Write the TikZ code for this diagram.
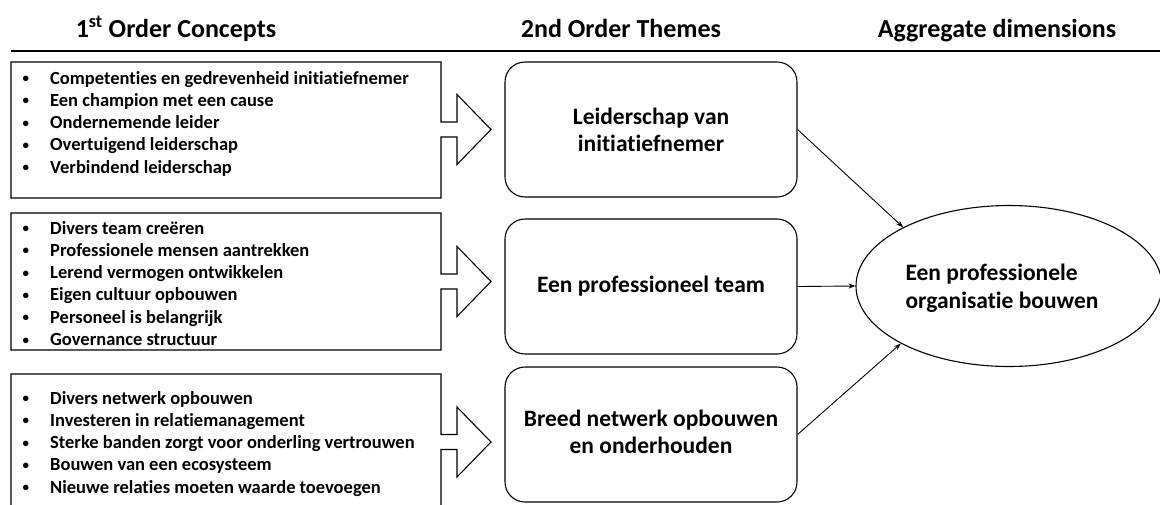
\documentclass[tikz,border=0pt]{standalone}
\usepackage{fontspec}
\setmainfont{Carlito}[RawFeature={-liga}]
\usetikzlibrary{shapes.geometric,arrows.meta}

\tikzset{
  heading/.style={font=\fontsize{26}{30}\selectfont\bfseries, inner sep=0pt, anchor=base},
  conceptbox/.style={draw=black, line width=1.1pt, fill=white, line join=miter},
  conceptlist/.style={font=\fontsize{18.5}{22.3}\selectfont\bfseries, inner sep=0pt, anchor=base west},
  theme/.style={draw=black, line width=1.1pt, rounded corners=20pt, minimum width=292pt,
    minimum height=135pt, align=center, font=\fontsize{23.5}{27}\selectfont\bfseries, inner sep=0pt},
  aggregate/.style={draw=black, line width=1.1pt, ellipse, minimum width=306pt, minimum height=161pt,
    inner sep=0pt},
  aggtext/.style={inner sep=0pt, align=left, font=\fontsize{23.5}{28}\selectfont\bfseries},
  link/.style={draw=black, line width=0.9pt, -{Stealth[length=7pt,width=5pt]}}
}

% rectangle with a block arrow on its right side: top, bottom, arrow axis
\newcommand\calloutshape[3]{%
  \draw[conceptbox] (11,#1) -- (441,#1) -- (441,#3-7.5) -- (457,#3-7.5) -- (457,#3-35)
    -- (491,#3) -- (457,#3+35) -- (457,#3+7.5) -- (441,#3+7.5) -- (441,#2) -- (11,#2) -- cycle;}
\newcommand\itm[1]{\hspace{1.5pt}{\fontsize{13}{13}\selectfont\raisebox{1.5pt}{\textbullet}} & #1\\}

\begin{document}
\begin{tikzpicture}[x=1pt,y=-1pt]
\useasboundingbox (0,0) rectangle (1160,504);

% column headings and rule
\node[heading] (h1) at (176,37) {1\textsuperscript{st} Order Concepts};
\node[heading] (h2) at (621,37) {2nd Order Themes};
\node[heading] (h3) at (997,37) {Aggregate dimensions};
\draw[line width=1.6pt] (11,51) -- (1160,51);

% first-order concept boxes
\calloutshape{62}{198}{129.5}
\calloutshape{213}{350}{281.5}
\calloutshape{374}{520}{442}

\node[conceptlist] (c1) at (21,84) {\begin{tabular}[t]{@{}p{29pt}@{}l@{}}
\itm{Competenties en gedrevenheid initiatiefnemer}
\itm{Een champion met een cause}
\itm{Ondernemende leider}
\itm{Overtuigend leiderschap}
\itm{Verbindend leiderschap}
\end{tabular}};

\node[conceptlist] (c2) at (21,234) {\begin{tabular}[t]{@{}p{29pt}@{}l@{}}
\itm{Divers team creëren}
\itm{Professionele mensen aantrekken}
\itm{Lerend vermogen ontwikkelen}
\itm{Eigen cultuur opbouwen}
\itm{Personeel is belangrijk}
\itm{Governance structuur}
\end{tabular}};

\node[conceptlist] (c3) at (21,404) {\begin{tabular}[t]{@{}p{29pt}@{}l@{}}
\itm{Divers netwerk opbouwen}
\itm{Investeren in relatiemanagement}
\itm{Sterke banden zorgt voor onderling vertrouwen}
\itm{Bouwen van een ecosysteem}
\itm{Nieuwe relaties moeten waarde toevoegen}
\end{tabular}};

% second-order themes
\node[theme] (t1) at (651,129.5) {Leiderschap van\\initiatiefnemer};
\node[theme] (t2) at (651,286.5) {\raisebox{4pt}{Een professioneel team}};
\node[theme] (t3) at (651,434.5) {\raisebox{5pt}{\begin{tabular}{@{}c@{}}Breed netwerk opbouwen\\en onderhouden\end{tabular}}};

% aggregate dimension
\node[aggregate] (agg) at (1009,286) {};
\node[aggtext] (aggl) at (1002,288) {Een professionele\\organisatie bouwen};

\draw[link] (t1.east) -- (agg.151.5);
\draw[link] (t2.east) -- (agg.west);
\draw[link] (t3.east) -- (agg.208.5);
\end{tikzpicture}
\end{document}
